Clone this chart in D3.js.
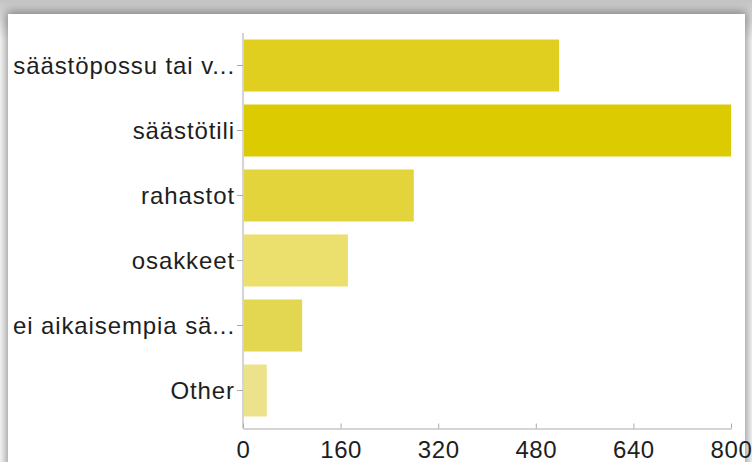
<!DOCTYPE html>
<html>
<head>
<meta charset="utf-8">
<script src="https://cdn.jsdelivr.net/npm/d3@7"></script>
<style>
  html, body { margin: 0; padding: 0; background: #ffffff; }
  body { width: 752px; height: 462px; overflow: hidden; position: relative;
         background: linear-gradient(#c4c4c4, #ffffff 40px); }
  #card { position: absolute; left: 8px; top: 14px; width: 737px; height: 470px;
          background: #fff; box-shadow: 0 0 10px 2px rgba(0,0,0,0.45); }
  svg { position: absolute; left: 0; top: 0; }
  text { font-family: "Liberation Sans", Arial, Helvetica, sans-serif; fill: #1e1e1e; }
</style>
</head>
<body>
<div id="card"></div>
<script>
// Answer categories, counts and the colour of each bar
const categories = ["säästöpossu tai v...", "säästötili", "rahastot", "osakkeet", "ei aikaisempia sä...", "Other"];
const counts = [518, 800, 280, 172, 97, 39];
const barColors = ["#e0cf1f", "#dccb00", "#e3d43c", "#ebe06e", "#e3d650", "#ece28c"];
const xTicks = [0, 160, 320, 480, 640, 800];

const W = 752, H = 462;
const plotLeft = 243, plotRight = 731, plotTop = 33, plotBottom = 423;

const svg = d3.select("body").append("svg").attr("width", W).attr("height", H);

const x = d3.scaleLinear().domain([0, 800]).range([plotLeft, plotRight]);
const y = d3.scaleBand().domain(categories).range([plotTop, plotBottom]).paddingInner(0.2).paddingOuter(0.1);

// bars
svg.append("g").selectAll("rect").data(categories).join("rect")
  .attr("x", x(0) + 1)
  .attr("y", d => y(d))
  .attr("width", (d, i) => x(counts[i]) - x(0) - 1)
  .attr("height", y.bandwidth())
  .attr("fill", (d, i) => barColors[i]);

// category axis
const yAxis = svg.append("g").attr("transform", `translate(${plotLeft},0)`)
  .call(d3.axisLeft(y).tickSize(6).tickSizeOuter(0).tickPadding(2));
yAxis.select(".domain").attr("stroke", "#aaa").attr("d", `M0,${plotTop}V428.5`);
yAxis.selectAll(".tick line").attr("stroke", "#aaa");
yAxis.selectAll("text").style("font-size", "24px").style("letter-spacing", "0.9px").attr("dy", "0.37em");

// value axis
const xAxis = svg.append("g").attr("transform", "translate(0,428.5)")
  .call(d3.axisBottom(x).tickValues(xTicks).tickSize(5).tickSizeOuter(0).tickPadding(7));
xAxis.select(".domain").attr("stroke", "#aaa");
xAxis.selectAll(".tick line").attr("stroke", "#aaa").attr("y1", -5).attr("y2", 0);
xAxis.selectAll("text").style("font-size", "24px").style("letter-spacing", "0.6px");
</script>
</body>
</html>
